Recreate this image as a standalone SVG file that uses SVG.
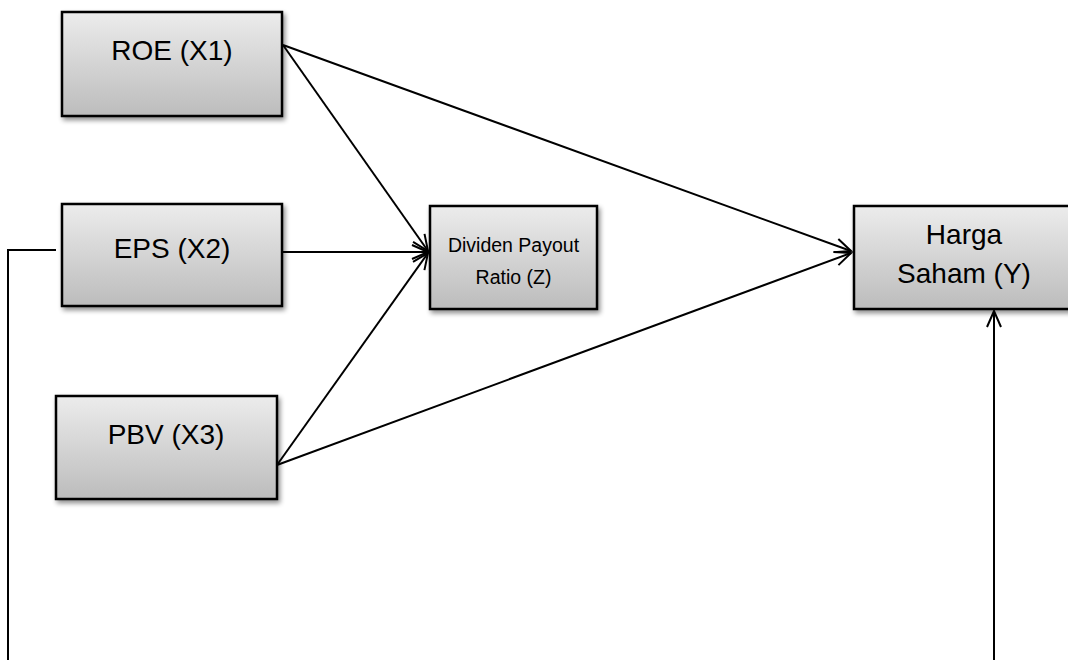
<svg xmlns="http://www.w3.org/2000/svg" width="1068" height="660" viewBox="0 0 1068 660">
<defs>
<linearGradient id="g" x1="0" y1="0" x2="0" y2="1">
<stop offset="0" stop-color="#ececec"/>
<stop offset="1" stop-color="#bcbcbc"/>
</linearGradient>
<filter id="sh" x="-10%" y="-10%" width="130%" height="130%">
<feGaussianBlur in="SourceAlpha" stdDeviation="2.5"/>
<feOffset dx="2" dy="3" result="b"/>
<feComponentTransfer><feFuncA type="linear" slope="0.45"/></feComponentTransfer>
<feMerge><feMergeNode/><feMergeNode in="SourceGraphic"/></feMerge>
</filter>
<marker id="ah" markerWidth="20" markerHeight="20" refX="17" refY="10" orient="auto" markerUnits="userSpaceOnUse">
<path d="M1,3 L17,10 L1,17" fill="none" stroke="#000" stroke-width="2"/>
</marker>
</defs>
<style>
.box{fill:url(#g);stroke:#000;stroke-width:2.5;filter:url(#sh)}
.t{font-family:"Liberation Sans",Arial,sans-serif;font-size:28px;fill:#000;text-anchor:middle}
.ts{font-family:"Liberation Sans",Arial,sans-serif;font-size:19.5px;fill:#000;text-anchor:middle}
.c{fill:none;stroke:#000;stroke-width:2}
</style>
<g id="connectors">
<line class="c" x1="283" y1="45" x2="851" y2="251" marker-end="url(#ah)"/>
<line class="c" x1="283" y1="45" x2="428" y2="251" marker-end="url(#ah)"/>
<line class="c" x1="283" y1="252" x2="428" y2="252" marker-end="url(#ah)"/>
<line class="c" x1="277" y1="465" x2="428" y2="253" marker-end="url(#ah)"/>
<line class="c" x1="277" y1="465" x2="851" y2="253" marker-end="url(#ah)"/>
<polyline class="c" points="56,250 8,250 8,662"/>
<line class="c" x1="994" y1="662" x2="994" y2="311" marker-end="url(#ah)"/>
</g>
<g id="roe">
<rect class="box" x="62" y="12" width="220" height="104"/>
<text class="t" x="172" y="60">ROE (X1)</text>
</g>
<g id="eps">
<rect class="box" x="62" y="204" width="220" height="102"/>
<text class="t" x="172" y="258">EPS (X2)</text>
</g>
<g id="pbv">
<rect class="box" x="56" y="396" width="221" height="103"/>
<text class="t" x="166" y="444">PBV (X3)</text>
</g>
<g id="dpr">
<rect class="box" x="430" y="206" width="167" height="103"/>
<text class="ts" x="513.5" y="252">Dividen Payout</text>
<text class="ts" x="513.5" y="284">Ratio (Z)</text>
</g>
<g id="harga">
<rect class="box" x="854" y="206" width="220" height="103"/>
<text class="t" x="964" y="244">Harga</text>
<text class="t" x="964" y="283">Saham (Y)</text>
</g>
</svg>
